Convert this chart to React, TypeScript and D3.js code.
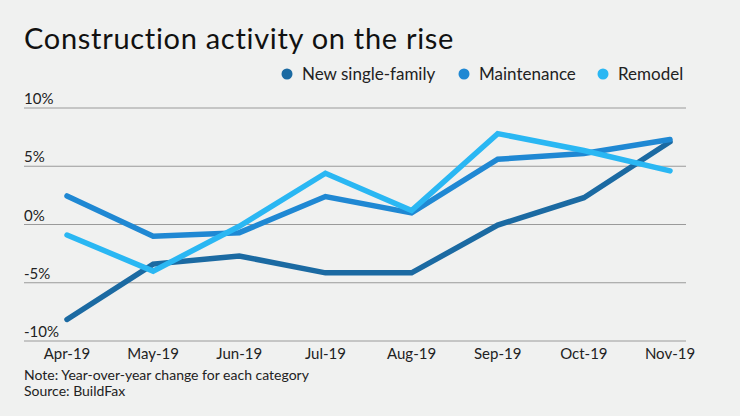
import React from "react";
import * as d3 from "d3";

const months = ["Apr-19", "May-19", "Jun-19", "Jul-19", "Aug-19", "Sep-19", "Oct-19", "Nov-19"];
const newSingleFamily = [-8.15, -3.4, -2.7, -4.15, -4.15, -0.05, 2.3, 7.1];
const maintenance = [2.45, -1.0, -0.7, 2.4, 1.0, 5.6, 6.1, 7.3];
const remodel = [-0.9, -4.0, -0.15, 4.4, 1.2, 7.8, 6.35, 4.6];
const yTicks = [10, 5, 0, -5, -10];

const seriesNames = ["New single-family", "Maintenance", "Remodel"];
const seriesColors = ["#1b6aa2", "#1f88d3", "#2ab7f3"];

const W = 740;
const H = 416;
const FONT = "Lato, 'Open Sans', sans-serif";

export default function App() {
    const series = [newSingleFamily, maintenance, remodel];

    const x = d3.scalePoint<string>().domain(months).range([67, 670]);
    const y = d3.scaleLinear().domain([-10, 10]).range([341, 108]);

    const line = d3.line<number>()
        .x((d, i) => x(months[i]) ?? 0)
        .y(d => y(d));

    const legendX = [287, 464, 603];

    return <div style={{ position: "absolute", left: 0, top: 0 }}>
        <svg width={W} height={H} style={{ display: "block", fontFamily: FONT }}>
            <rect width={W} height={H} fill="#f0f1f0" />
            <text x={24} y={49} fontSize={29} letterSpacing={0.7} fill="#111">Construction activity on the rise</text>

            {seriesNames.map((name, i) => (
                <g key={name}>
                    <circle cx={legendX[i]} cy={74} r={5.5} fill={seriesColors[i]} />
                    <text x={legendX[i] + 15} y={80} fontSize={17} fill="#222">{name}</text>
                </g>
            ))}

            {yTicks.map(t => (
                <g key={t}>
                    <line x1={24} x2={686} y1={y(t)} y2={y(t)} stroke="#9a9a9a" strokeWidth={1} />
                    <text x={24} y={y(t) - 4} fontSize={15} fill="#222">{t}%</text>
                </g>
            ))}

            {series.map((s, i) => (
                <path key={i} d={line(s) ?? ""} fill="none" stroke={seriesColors[i]}
                    strokeWidth={5.5} strokeLinecap="round" strokeLinejoin="miter" />
            ))}

            {months.map(m => (
                <text key={m} x={x(m)} y={359} fontSize={15} fill="#222" textAnchor="middle">{m}</text>
            ))}

            <text x={24} y={380} fontSize={14} fill="#222">Note: Year-over-year change for each category</text>
            <text x={24} y={395.5} fontSize={14} fill="#222">Source: BuildFax</text>
        </svg>
    </div>;
}
